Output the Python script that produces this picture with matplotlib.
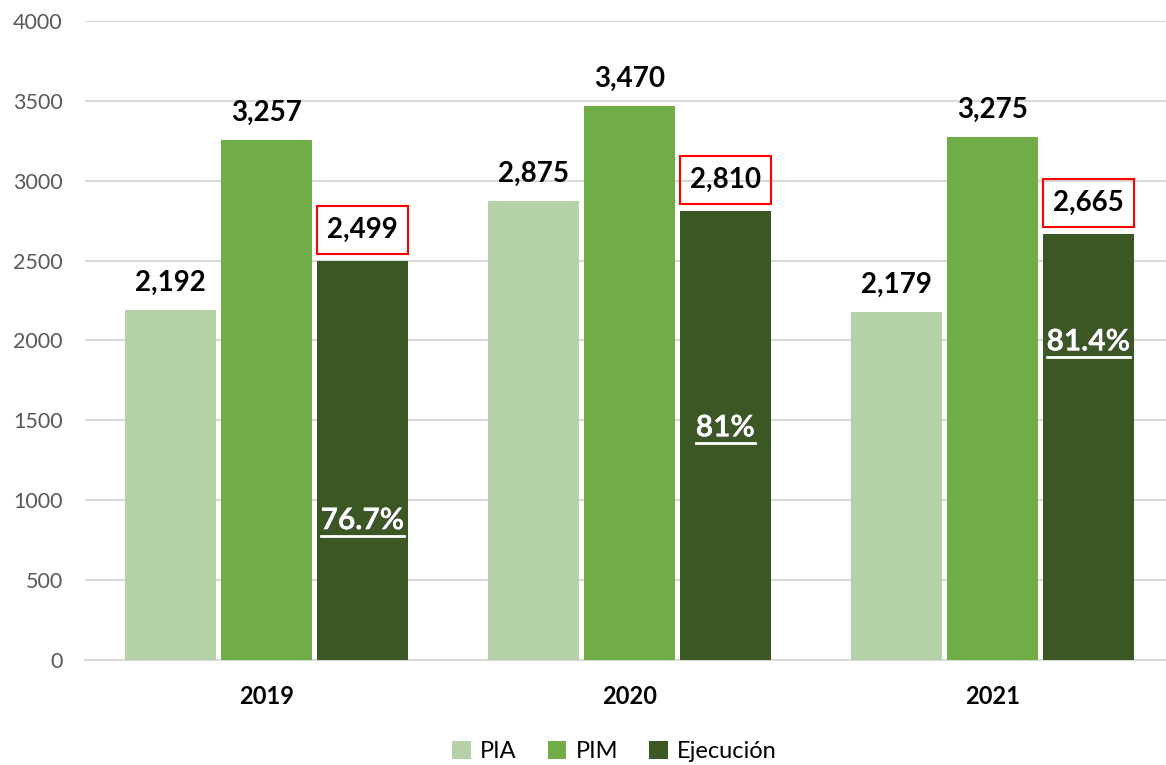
import matplotlib
matplotlib.use("Agg")
import matplotlib.pyplot as plt
import matplotlib.patheffects as pe
from matplotlib.patches import Rectangle
from matplotlib.lines import Line2D
import numpy as np

plt.rcParams['font.family'] = ['Lato', 'DejaVu Sans']

anios = ['2019', '2020', '2021']
pia = [2192, 2875, 2179]
pim = [3257, 3470, 3275]
ejecucion = [2499, 2810, 2665]
porcentaje = ['76.7%', '81%', '81.4%']
# altura donde va el porcentaje dentro de la barra
pos_porcentaje = [875, 1456, 1994]

c_pia = '#B5D1A7'
c_pim = '#70AD47'
c_eje = '#3A5724'

fig = plt.figure(figsize=(11.66, 7.65), dpi=100)
ax = fig.add_axes([85 / 1166, 105 / 765, 1081 / 1166, 639 / 765])

x = np.arange(len(anios))
ancho = 0.25
sep = 0.264

ax.bar(x - sep, pia, ancho, color=c_pia, label='PIA', zorder=3)
ax.bar(x, pim, ancho, color=c_pim, label='PIM', zorder=3)
ax.bar(x + sep, ejecucion, ancho, color=c_eje, label='Ejecución', zorder=3)

ax.set_xlim(-0.5, 2.478)
ax.set_ylim(0, 4000)
ax.set_yticks(range(0, 4001, 500))
ax.yaxis.grid(True, color='#D9D9D9', linewidth=1.5, zorder=0)
ax.set_axisbelow(True)
for s in ['left', 'right', 'top']:
    ax.spines[s].set_visible(False)
ax.spines['bottom'].set_color('#D9D9D9')
ax.spines['bottom'].set_linewidth(1.5)
ax.tick_params(axis='both', length=0)
ax.tick_params(axis='y', labelsize=15.5, labelcolor='#595959', pad=16)
ax.set_xticks(x)
ax.set_xticklabels(anios, fontsize=17, fontweight='bold')
ax.tick_params(axis='x', pad=18)

for i in range(len(anios)):
    ax.text(x[i] - sep, pia[i] + 170, f'{pia[i]:,}', ha='center', va='center',
            fontsize=20, fontweight='bold', zorder=5)
    ax.text(x[i], pim[i] + 170, f'{pim[i]:,}', ha='center', va='center',
            fontsize=20, fontweight='bold', zorder=5)
    ax.text(x[i] + sep, ejecucion[i] + 195, f'{ejecucion[i]:,}', ha='center', va='center',
            fontsize=20, fontweight='bold', zorder=5)
    ax.add_patch(Rectangle((x[i] + sep - ancho / 2, ejecucion[i] + 45), ancho, 300,
                           fill=False, edgecolor='red', linewidth=1.5, zorder=4))

textos = []
for i in range(len(anios)):
    t = ax.text(x[i] + sep, pos_porcentaje[i], porcentaje[i], ha='center', va='center',
                fontsize=21.5, fontweight='bold', color='white', zorder=5,
                path_effects=[pe.withSimplePatchShadow(offset=(1, -1), alpha=0.6), pe.Normal()])
    textos.append(t)

fig.legend(loc='lower center', bbox_to_anchor=(0.527, -0.024), ncol=3, frameon=False,
           fontsize=17, handlelength=0.8, handleheight=0.8, handletextpad=0.4,
           columnspacing=1.3)

# subrayado de los porcentajes
fig.canvas.draw()
r = fig.canvas.get_renderer()
for t in textos:
    bb = t.get_window_extent(renderer=r)
    yl = bb.y0 - 2
    fig.add_artist(Line2D([bb.x0 / 1166, bb.x1 / 1166], [yl / 765, yl / 765],
                          color='white', linewidth=2, zorder=6))

fig.savefig('out.png', dpi=100)
